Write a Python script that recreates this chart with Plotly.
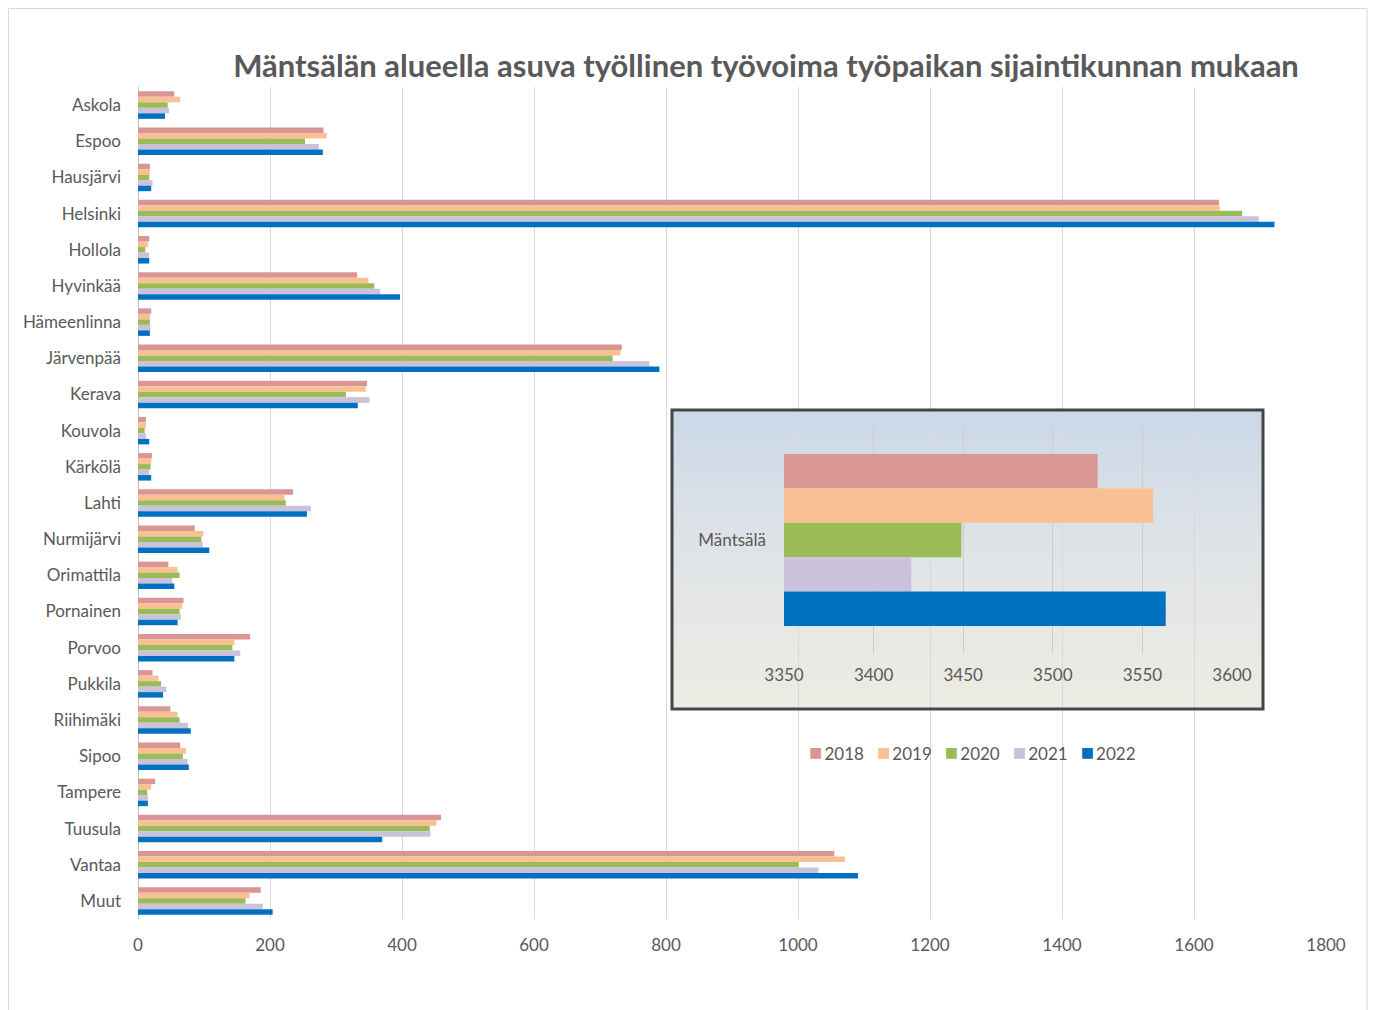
import plotly.graph_objects as go

# data
kunnat = ["Askola", "Espoo", "Hausjärvi", "Helsinki", "Hollola", "Hyvinkää", "Hämeenlinna",
          "Järvenpää", "Kerava", "Kouvola", "Kärkölä", "Lahti", "Nurmijärvi", "Orimattila",
          "Pornainen", "Porvoo", "Pukkila", "Riihimäki", "Sipoo", "Tampere", "Tuusula",
          "Vantaa", "Muut"]
vuodet = ["2018", "2019", "2020", "2021", "2022"]

v2018 = [55, 281, 18, 1638, 17, 332, 20, 733, 347, 12, 21, 235, 86, 46, 69, 170, 22, 49, 64, 26, 459, 1055, 186]
v2019 = [64, 286, 18, 1639, 15, 349, 18, 731, 345, 12, 20, 222, 99, 60, 67, 146, 31, 60, 73, 20, 452, 1071, 169]
v2020 = [45, 253, 17, 1673, 11, 358, 18, 719, 315, 10, 19, 224, 96, 63, 63, 143, 35, 63, 68, 14, 442, 1001, 163]
v2021 = [47, 274, 22, 1698, 17, 367, 19, 775, 351, 12, 17, 262, 98, 52, 65, 155, 43, 76, 75, 15, 443, 1031, 189]
v2022 = [41, 280, 20, 1722, 17, 397, 18, 790, 333, 17, 20, 256, 108, 55, 60, 146, 38, 80, 77, 15, 370, 1091, 204]
sarjat = [v2018, v2019, v2020, v2021, v2022]

mantsala = ["Mäntsälä"]
mantsala_arvot = [3525, 3556, 3449, 3421, 3563]

varit = ["#D99694", "#F9C193", "#9BBB59", "#CCC1DA", "#0070C0"]
harmaa = "#595959"
fontti = "Lato"

# the page has an 8px body margin, so the figure is 8px smaller
OFS = 8
W, H = 1376 - OFS, 1010 - OFS


def px_x(p):
    return (p - OFS) / W


def px_y(p):
    return 1 - (p - OFS) / H


def sekoita(c1, c2, t):
    a = [int(c1[i:i + 2], 16) for i in (1, 3, 5)]
    b = [int(c2[i:i + 2], 16) for i in (1, 3, 5)]
    return "rgb(%d,%d,%d)" % tuple(round(a[k] + (b[k] - a[k]) * t) for k in range(3))


fig = go.Figure()

# main chart
for vuosi, arvot, vari in zip(vuodet, sarjat, varit):
    fig.add_trace(go.Bar(
        y=kunnat, x=arvot, name=vuosi, orientation="h",
        marker=dict(color=vari, line=dict(width=0)),
        xaxis="x", yaxis="y", showlegend=False,
    ))

# inset chart
for vuosi, arvo, vari in zip(vuodet, mantsala_arvot, varit):
    fig.add_trace(go.Bar(
        y=mantsala, x=[arvo], name=vuosi, orientation="h",
        marker=dict(color=vari, line=dict(width=0)),
        xaxis="x2", yaxis="y2", showlegend=False,
    ))

# inset plot area and box (pixels)
ix0, ix1 = 784, 1232
iy0, iy1 = 427, 653
bx0, bx1, by0, by1 = 672, 1263, 410, 709


def dx(p):
    return (p - ix0) / (ix1 - ix0)


def dy(p):
    return 1 - (p - iy0) / (iy1 - iy0)


# gradient background for the inset, drawn in the inset subplot below its grid
muodot = []
n = 60
yla, keski, ala = "#CAD8E8", "#E1E4E6", "#EDECE4"
for i in range(n):
    t = (i + 0.5) / n
    vari = sekoita(yla, keski, t * 2) if t < 0.5 else sekoita(keski, ala, (t - 0.5) * 2)
    p0 = by0 + (by1 - by0) * i / n
    p1 = by0 + (by1 - by0) * (i + 1) / n + 0.6
    muodot.append(dict(type="rect", xref="x2 domain", yref="y2 domain",
                       x0=dx(bx0), x1=dx(bx1), y0=dy(p1), y1=dy(p0),
                       fillcolor=vari, line=dict(width=0), layer="below"))

muodot.append(dict(type="rect", xref="paper", yref="paper",
                   x0=0.5 / W, x1=px_x(1367), y0=-0.05, y1=1 - 0.5 / H,
                   line=dict(color="#D9D9D9", width=1), fillcolor="rgba(0,0,0,0)", layer="above"))
muodot.append(dict(type="rect", xref="paper", yref="paper",
                   x0=px_x(bx0), x1=px_x(bx1), y0=px_y(by1), y1=px_y(by0),
                   line=dict(color="#454545", width=3), fillcolor="rgba(0,0,0,0)", layer="above"))

# legend written as one line of text, squares coloured per series
valit = "&nbsp;&nbsp;&nbsp;"
selite = valit.join(
    '<span style="color:%s;font-size:22px">■</span>\u2009%s' % (c, v) for v, c in zip(vuodet, varit)
)

fig.update_layout(
    width=W, height=H,
    margin=dict(l=0, r=0, t=0, b=0),
    paper_bgcolor="white",
    plot_bgcolor="rgba(0,0,0,0)",
    font=dict(family=fontti, color=harmaa, size=17),
    barmode="group",
    bargap=0.24,
    bargroupgap=0,
    title=dict(text="<b>Mäntsälän alueella asuva työllinen työvoima työpaikan sijaintikunnan mukaan</b>",
               x=px_x(766), y=px_y(66), xanchor="center", yanchor="middle",
               font=dict(size=31, color=harmaa, family=fontti)),
    xaxis=dict(domain=[px_x(138), px_x(1326)], range=[0, 1800], dtick=200,
               showgrid=True, gridcolor="#D9D9D9", gridwidth=1,
               zeroline=True, zerolinecolor="#BFBFBF", zerolinewidth=1,
               ticklabelstandoff=14, automargin=False, fixedrange=True,
               tickfont=dict(size=17, color=harmaa), anchor="y"),
    yaxis=dict(domain=[px_y(919), px_y(87)], range=[22.5, -0.5], type="category",
               showgrid=False, ticklabelstandoff=16, automargin=False,
               tickfont=dict(size=17, color=harmaa), anchor="x"),
    xaxis2=dict(domain=[px_x(ix0), px_x(ix1)], range=[3350, 3600], dtick=50,
                showgrid=True, gridcolor="#CCCCCC", zeroline=False,
                ticklabelstandoff=10, automargin=False,
                tickfont=dict(size=17, color=harmaa), anchor="y2"),
    yaxis2=dict(domain=[px_y(iy1), px_y(iy0)], range=[0.5, -0.5], type="category",
                showgrid=False, ticklabelstandoff=17, automargin=False,
                tickfont=dict(size=17, color=harmaa), anchor="x2"),
    showlegend=False,
    annotations=[dict(text=selite, xref="paper", yref="paper",
                      x=px_x(973), y=px_y(751), xanchor="center", yanchor="middle",
                      showarrow=False, font=dict(size=17, color=harmaa, family=fontti))],
    shapes=muodot,
)

fig.write_html("out.html")
